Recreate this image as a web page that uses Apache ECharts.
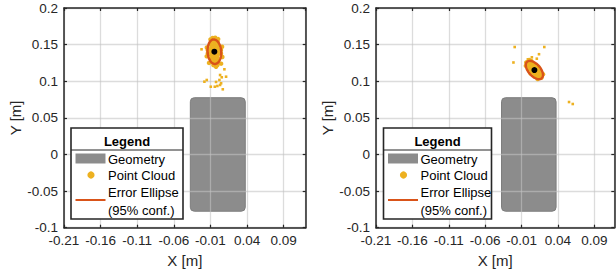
<!DOCTYPE html>
<html><head><meta charset="utf-8">
<script src="https://cdn.jsdelivr.net/npm/echarts@6/dist/echarts.min.js"></script>
<style>html,body{margin:0;padding:0;background:#fff}#c{width:616px;height:275px}</style>
</head><body><div id="c"></div>
<script>
// ---- data ----
const xRangeLeft = [-0.21, 0.12];
const xRangeRight = [-0.21, 0.1175];
const yRange = [-0.1, 0.2];
const tickStep = 0.05;
const geometry = [[-0.0375, -0.0775, 0.0375, 0.0775]];
const cloudLeft = [
  [-0.0137,0.1380],[-0.0137,0.1425],
  [-0.0092,0.1268],[-0.0092,0.1313],[-0.0092,0.1358],[-0.0092,0.1403],[-0.0092,0.1448],[-0.0092,0.1493],[-0.0092,0.1538],
  [-0.0047,0.1245],[-0.0047,0.1290],[-0.0047,0.1335],[-0.0047,0.1380],[-0.0047,0.1425],[-0.0047,0.1470],[-0.0047,0.1515],[-0.0047,0.1560],
  [-0.0002,0.1268],[-0.0002,0.1313],[-0.0002,0.1358],[-0.0002,0.1403],[-0.0002,0.1448],[-0.0002,0.1493],[-0.0002,0.1538],
  [0.0043,0.1380],[0.0043,0.1425],
  [-0.0070,0.1590],[-0.0035,0.1595],[-0.0100,0.1570],[0.0005,0.1575],[-0.0150,0.1460],[-0.0152,0.1340],
  [0.0058,0.1470],[0.0062,0.1330],[0.0045,0.1240],[-0.0020,0.1215],[-0.0060,0.1220],[-0.0120,0.1250],
  [-0.0024,0.1198],[-0.0006,0.1222]
];
const outliersLeft = [
  [-0.0222,0.1436],[0.0090,0.1163],[0.0113,0.1062],[0.0031,0.1085],[0.0054,0.1054],[0.0022,0.1017],
  [-0.0151,0.1017],[-0.0183,0.0994],[-0.0096,0.0925],[-0.0041,0.0925],[-0.0006,0.0935],[0.0031,0.0949],
  [0.0068,0.0890],[-0.0024,0.0990],[0.0045,0.0972]
];
const cloudRight = [
  [-0.0041,0.1210],[-0.0004,0.1243],[0.0033,0.1276],
  [0.0000,0.1165],[0.0037,0.1198],[0.0074,0.1231],
  [0.0040,0.1120],[0.0077,0.1153],[0.0114,0.1186],
  [0.0080,0.1075],[0.0117,0.1108],[0.0154,0.1141],
  [0.0121,0.1030],[0.0158,0.1063],[0.0195,0.1096],
  [0.0025,0.1106],[0.0129,0.1200],[-0.0019,0.1259],[0.0173,0.1047],
  [-0.0002,0.1203],[0.0034,0.1237],[0.0039,0.1158],[0.0075,0.1192],
  [0.0079,0.1114],[0.0115,0.1148],[0.0120,0.1069],[0.0156,0.1103],
  [0.0005,0.1290],[-0.0035,0.1255]
];
const outliersRight = [
  [-0.0194,0.1467],[0.0213,0.1467],[-0.0211,0.1256],[0.0140,0.1369],[0.0110,0.1308],
  [-0.0013,0.1299],[0.0042,0.1327],[0.0553,0.0716],[0.0604,0.0689]
];
const centerLeft = [[-0.0047, 0.1403]];
const centerRight = [[0.0077, 0.1153]];
// [cx, cy, semiMajor, semiMinor, angleDeg]
const ellipseLeft = [[-0.0047, 0.1403, 0.0168, 0.0093, 94]];
const ellipseRight = [[0.0077, 0.1153, 0.0151, 0.0082, -48]];
const legendTitle = 'Legend';
const legendLabels = ['Geometry', 'Point Cloud', 'Error Ellipse', '(95% conf.)'];
const axisNames = ['X [m]', 'Y [m]'];

// ---- styles ----
const FONT = 'Liberation Sans, Arial, Helvetica, sans-serif';
const TXT = '#262626';
const C_GEOM = '#8c8c8c';
const C_PTS = '#EDB120';
const C_ELL = '#D95319';
const GRIDLINE = 'rgba(195,195,195,0.58)';

function fmt(v){ return String(+v.toFixed(4)); }

function xAxisPair(gi, range){
  const base = {
    gridIndex: gi, type: 'value', min: range[0], max: range[1], interval: tickStep, z: 2,
    axisLine: {show: true, onZero: false, lineStyle: {color: TXT, width: 1.5}},
    axisTick: {show: true, inside: true, length: 3, lineStyle: {color: TXT, width: 1.2}},
    splitLine: {show: false}
  };
  return [
    Object.assign({}, base, {position: 'bottom', name: axisNames[0], nameLocation: 'middle', nameGap: 20,
      nameTextStyle: {fontFamily: FONT, fontSize: 15, color: TXT},
      splitLine: {show: true, z: 2, lineStyle: {color: GRIDLINE, width: 1.3}},
      axisLabel: {show: true, margin: 6, fontFamily: FONT, fontSize: 13.5, color: TXT, showMaxLabel: false, formatter: fmt}}),
    Object.assign({}, base, {position: 'top', axisLabel: {show: false}})
  ];
}
function yAxisPair(gi){
  const base = {
    gridIndex: gi, type: 'value', min: yRange[0], max: yRange[1], interval: tickStep, z: 2,
    axisLine: {show: true, onZero: false, lineStyle: {color: TXT, width: 1.5}},
    axisTick: {show: true, inside: true, length: 3, lineStyle: {color: TXT, width: 1.2}},
    splitLine: {show: false}
  };
  return [
    Object.assign({}, base, {position: 'left', name: axisNames[1], nameLocation: 'middle', nameGap: 41,
      nameTextStyle: {fontFamily: FONT, fontSize: 15, color: TXT},
      splitLine: {show: true, z: 2, lineStyle: {color: GRIDLINE, width: 1.3}},
      axisLabel: {show: true, margin: 6, fontFamily: FONT, fontSize: 13.5, color: TXT, formatter: fmt}}),
    Object.assign({}, base, {position: 'right', axisLabel: {show: false}})
  ];
}

function geomSeries(xi, yi){
  return {
    type: 'custom', xAxisIndex: xi, yAxisIndex: yi, data: geometry, z: 0, zlevel: 0,
    renderItem: function(params, api){
      const p1 = api.coord([api.value(0), api.value(3)]);
      const p2 = api.coord([api.value(2), api.value(1)]);
      return {type: 'rect', z2: -10, shape: {x: p1[0], y: p1[1], width: p2[0]-p1[0], height: p2[1]-p1[1], r: 4},
        style: {fill: C_GEOM, stroke: '#7d7d7d', lineWidth: 1}};
    }
  };
}
function ellipseSeries(xi, yi, data){
  return {
    type: 'custom', xAxisIndex: xi, yAxisIndex: yi, data: data, z: 4,
    renderItem: function(params, api){
      const cx = api.value(0), cy = api.value(1), a = api.value(2), b = api.value(3), th = api.value(4)*Math.PI/180;
      const pts = [];
      for (let i = 0; i <= 72; i++){
        const t = i/72*2*Math.PI;
        const ex = a*Math.cos(t), ey = b*Math.sin(t);
        pts.push(api.coord([cx + ex*Math.cos(th) - ey*Math.sin(th), cy + ex*Math.sin(th) + ey*Math.cos(th)]));
      }
      return {type: 'polyline', shape: {points: pts}, style: {fill: 'none', stroke: C_ELL, lineWidth: 2.4}};
    }
  };
}
function scatter(xi, yi, data, size, color, z, symbol){
  return {type: 'scatter', xAxisIndex: xi, yAxisIndex: yi, data: data, symbol: symbol || 'circle',
    symbolSize: size, itemStyle: {color: color, opacity: 1}, z: z, silent: true, animation: false};
}

function legendGraphic(bx, W){
  const top = 128, H = 91;
  const t = {fontFamily: FONT, fontSize: 13, fill: '#000'};
  return [
    {type: 'rect', shape: {x: bx, y: top, width: W, height: H}, style: {fill: '#fff', stroke: '#262626', lineWidth: 1.6}, z: 100},
    {type: 'text', x: bx + W/2, y: 141, style: Object.assign({}, t, {text: legendTitle, fontWeight: 'bold', align: 'center', verticalAlign: 'middle'}), z: 101},
    {type: 'line', shape: {x1: bx, y1: 150, x2: bx + W, y2: 150}, style: {stroke: '#262626', lineWidth: 1.2}, z: 101},
    {type: 'rect', shape: {x: bx + 4.5, y: 153.5, width: 30, height: 10}, style: {fill: C_GEOM}, z: 101},
    {type: 'text', x: bx + 37, y: 159, style: Object.assign({}, t, {text: legendLabels[0], verticalAlign: 'middle'}), z: 101},
    {type: 'circle', shape: {cx: bx + 20, cy: 175, r: 3.6}, style: {fill: C_PTS}, z: 101},
    {type: 'text', x: bx + 37, y: 175.5, style: Object.assign({}, t, {text: legendLabels[1], verticalAlign: 'middle'}), z: 101},
    {type: 'line', shape: {x1: bx + 4.5, y1: 200, x2: bx + 34.5, y2: 200}, style: {stroke: C_ELL, lineWidth: 2}, z: 101},
    {type: 'text', x: bx + 37, y: 192.5, style: Object.assign({}, t, {text: legendLabels[2], verticalAlign: 'middle'}), z: 101},
    {type: 'text', x: bx + 37, y: 210, style: Object.assign({}, t, {text: legendLabels[3], verticalAlign: 'middle'}), z: 101}
  ];
}

const chart = echarts.init(document.getElementById('c'), null, {renderer: 'svg'});
chart.setOption({
  animation: false,
  backgroundColor: '#fff',
  grid: [
    {left: 64, right: 616 - 305.7, top: 8, bottom: 275 - 227.7},
    {left: 376, right: 616 - 614.3, top: 8, bottom: 275 - 227.7}
  ],
  xAxis: xAxisPair(0, xRangeLeft).concat(xAxisPair(1, xRangeRight)),
  yAxis: yAxisPair(0).concat(yAxisPair(1)),
  series: [
    geomSeries(0, 0),
    scatter(0, 0, cloudLeft, 4.5, C_PTS, 3),
    scatter(0, 0, outliersLeft, 2.6, C_PTS, 3, 'rect'),
    ellipseSeries(0, 0, ellipseLeft),
    scatter(0, 0, centerLeft, 6, '#000', 5),
    geomSeries(2, 2),
    scatter(2, 2, cloudRight, 4.5, C_PTS, 3),
    scatter(2, 2, outliersRight, 2.6, C_PTS, 3, 'rect'),
    ellipseSeries(2, 2, ellipseRight),
    scatter(2, 2, centerRight, 6, '#000', 5)
  ],
  graphic: legendGraphic(71, 112).concat(legendGraphic(383.5, 108))
});
</script></body></html>
